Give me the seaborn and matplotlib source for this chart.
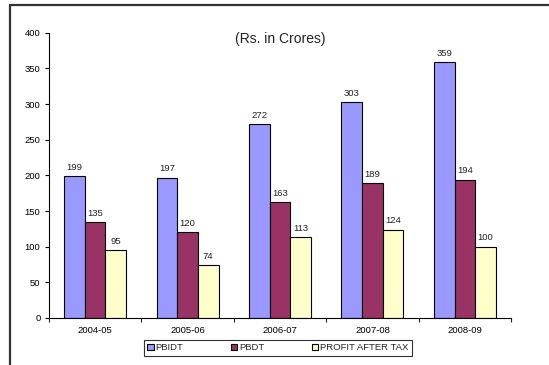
import numpy as np
import pandas as pd
import matplotlib
matplotlib.use("Agg")
import matplotlib.pyplot as plt
import seaborn as sns
from matplotlib.lines import Line2D

years = ["2004-05", "2005-06", "2006-07", "2007-08", "2008-09"]
pbidt = [199, 197, 272, 303, 359]
pbdt = [135, 120, 163, 189, 194]
pat = [95, 74, 113, 124, 100]
series_names = ["PBIDT", "PBDT", "PROFIT AFTER TAX"]
colors = ["#9999FF", "#993366", "#FFFFCC"]

df = pd.DataFrame({
    "year": years * 3,
    "value": pbidt + pbdt + pat,
    "series": [s for s in series_names for _ in years],
})

sns.set_style("white")
plt.rcParams["font.family"] = ["Liberation Sans", "DejaVu Sans"]

fig = plt.figure(figsize=(5.49, 3.65), dpi=100)
ax = fig.add_axes([0.089, 0.129, 0.842, 0.781])

sns.barplot(data=df, x="year", y="value", hue="series", palette=colors,
            hue_order=series_names, order=years, width=0.67, gap=0,
            saturation=1, edgecolor="black", linewidth=0.8, ax=ax)

for cont in ax.containers:
    ax.bar_label(cont, padding=3, fontsize=6.8, color="#222222")

ax.set_ylim(0, 400)
ax.set_xlim(-0.5, len(years) - 0.5)
ax.set_yticks(np.arange(0, 401, 50))
ax.set_xlabel("")
ax.set_ylabel("")
ax.tick_params(axis="both", labelsize=6.8, colors="black")
ax.tick_params(axis="y", direction="out", length=3, width=0.8, left=True, pad=3)
ax.tick_params(axis="x", which="major", length=0, pad=6)
ax.set_xticks(np.arange(-0.5, len(years)), minor=True)
ax.tick_params(axis="x", which="minor", direction="out", length=3, width=0.8, bottom=True)
for side in ["top", "right"]:
    ax.spines[side].set_visible(False)
for side in ["left", "bottom"]:
    ax.spines[side].set_color("black")
    ax.spines[side].set_linewidth(0.8)

ax.text(0.5 * (len(years) - 1), 392, "(Rs. in Crores)", ha="center", va="center",
        fontsize=10, color="#222222", family=["Liberation Sans Narrow", "Liberation Sans"])

handles, labels = ax.get_legend_handles_labels()
leg = ax.legend(handles, labels, loc="center", bbox_to_anchor=(0.495, -0.105), ncol=3,
                fontsize=6.8, frameon=True, fancybox=False, handlelength=0.7,
                handleheight=0.7, handletextpad=0.2, columnspacing=5.0,
                borderpad=0.35, edgecolor="black")
leg.get_frame().set_linewidth(0.8)

# outer chart frame (top and left edges visible in the crop)
fig.add_artist(Line2D([10 / 549, 10 / 549], [0, 1 - 5 / 365], transform=fig.transFigure,
                      color="#333333", linewidth=1.6))
fig.add_artist(Line2D([10 / 549, 1], [1 - 5 / 365, 1 - 5 / 365], transform=fig.transFigure,
                      color="#333333", linewidth=1.6))

fig.savefig("out.png", dpi=100)
